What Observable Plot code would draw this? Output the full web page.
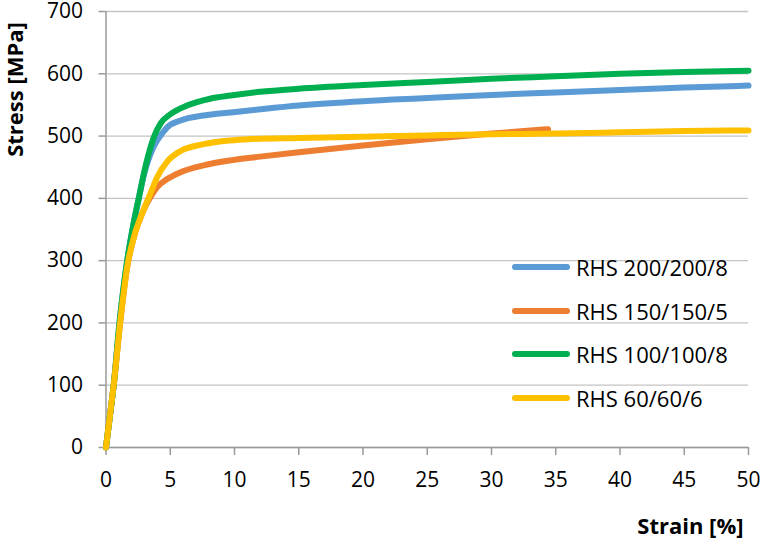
<!DOCTYPE html>
<html>
<head>
<meta charset="utf-8">
<script src="https://cdn.jsdelivr.net/npm/d3@7"></script>
<script src="https://cdn.jsdelivr.net/npm/@observablehq/plot@0.6"></script>
<style>
  html, body { margin: 0; padding: 0; background: #fff; }
  #wrap { position: relative; width: 762px; height: 548px; font-family: "Open Sans", sans-serif; }
  #legend { position: absolute; left: 512px; top: 250px; }
  .item { position: absolute; left: 0; height: 32px; width: 245px; }
  .swatch { position: absolute; left: 0; top: 14px; width: 58px; height: 6px; border-radius: 3px; }
  .lab { position: absolute; left: 64px; top: 0; font-size: 22px; line-height: 34px; color: #000; white-space: nowrap; }
</style>
</head>
<body>
<div id="wrap"></div>
<script>
const seriesNames = ["RHS 200/200/8", "RHS 150/150/5", "RHS 100/100/8", "RHS 60/60/6"];
const seriesColors = ["#5B9BD5", "#ED7D31", "#00B050", "#FFC000"];
const xTicks = [0, 5, 10, 15, 20, 25, 30, 35, 40, 45, 50];
const yTicks = [0, 100, 200, 300, 400, 500, 600, 700];

// RHS 200/200/8
const strain200 = [0, 0.3, 0.6, 1.05, 1.65, 2.15, 2.6, 2.95, 3.3, 3.6, 3.98, 4.4, 4.76, 5.8, 7.6, 9.7, 12, 15, 20, 25, 30, 35, 40, 45, 50];
const stress200 = [0, 50, 100, 200, 300, 360, 405, 438, 462, 478, 493, 505, 514, 525, 533, 538, 543, 549, 556, 561, 566, 570, 574, 578, 581];
// RHS 150/150/5
const strain150 = [0, 0.3, 0.6, 1.1, 1.65, 2.2, 2.8, 3.2, 3.46, 3.98, 4.76, 5.8, 7.6, 9.7, 12, 15, 20, 25, 30, 34.4];
const stress150 = [0, 50, 100, 200, 290, 340, 375, 393, 402, 418, 431, 442, 453, 461, 467, 474, 485, 495, 504, 511];
// RHS 100/100/8
const strain100 = [0, 0.3, 0.6, 1.05, 1.65, 2.15, 2.6, 2.95, 3.3, 3.72, 4.24, 5.0, 6.3, 8.1, 9.7, 12, 15, 20, 25, 30, 35, 40, 45, 50];
const stress100 = [0, 50, 100, 200, 300, 360, 405, 440, 470, 498, 520, 535, 549, 560, 565, 571, 576, 582, 587, 592, 596, 600, 603, 605];
// RHS 60/60/6
const strain60 = [0, 0.3, 0.6, 1.1, 1.65, 2.2, 2.8, 3.46, 3.98, 4.76, 5.8, 7.6, 9.7, 11, 15, 20, 25, 30, 35, 40, 45, 50];
const stress60 = [0, 50, 100, 200, 290, 340, 375, 408, 434, 459, 476, 487, 493, 495, 497, 499, 501, 503, 504, 506, 508, 509];

const seriesStrain = [strain200, strain150, strain100, strain60];
const seriesStress = [stress200, stress150, stress100, stress60];

const data = [];
seriesNames.forEach((name, k) => {
  seriesStrain[k].forEach((s, i) => data.push({series: name, strain: s, stress: seriesStress[k][i]}));
});

const axisGray = "#9a9a9a";
const chart = Plot.plot({
  width: 762,
  height: 548,
  marginLeft: 105.5,
  marginRight: 14,
  marginTop: 11,
  marginBottom: 101,
  style: {fontFamily: "'Open Sans', sans-serif", fontSize: "21px", color: "#000", background: "#fff", overflow: "visible"},
  x: {domain: [0, 50]},
  y: {domain: [0, 700]},
  color: {domain: seriesNames, range: seriesColors},
  marks: [
    Plot.gridY(yTicks, {stroke: "#c4c4c4", strokeOpacity: 1, strokeWidth: 1.3}),
    Plot.axisY(yTicks, {tickSize: 7, tickPadding: 16, stroke: axisGray, strokeWidth: 1.5, label: null}),
    Plot.axisX(xTicks, {tickSize: 8, tickPadding: 17, stroke: axisGray, strokeWidth: 1.5, label: null}),
    Plot.ruleY([0], {stroke: axisGray, strokeWidth: 1.5}),
    Plot.ruleX([0], {stroke: axisGray, strokeWidth: 1.5}),
    Plot.line(data, {x: "strain", y: "stress", z: "series", stroke: "series", strokeWidth: 6, curve: "monotone-x"}),
    Plot.text(["Strain [%]"], {frameAnchor: "bottom-right", textAnchor: "end", dx: -5, dy: 86, fontWeight: "bold", fontSize: 22, fill: "#000"}),
    Plot.text(["Stress [MPa]"], {frameAnchor: "left", textAnchor: "middle", rotate: -90, dx: -90.5, dy: -140, fontWeight: "bold", fontSize: 22, fill: "#000"})
  ]
});

const wrap = document.getElementById("wrap");
wrap.appendChild(chart);

const legend = document.createElement("div");
legend.id = "legend";
seriesNames.forEach((name, k) => {
  const item = document.createElement("div");
  item.className = "item";
  item.style.top = (k * 43.6) + "px";
  const sw = document.createElement("div");
  sw.className = "swatch";
  sw.style.background = seriesColors[k];
  const lab = document.createElement("div");
  lab.className = "lab";
  lab.textContent = name;
  item.appendChild(sw);
  item.appendChild(lab);
  legend.appendChild(item);
});
wrap.appendChild(legend);
</script>
</body>
</html>
